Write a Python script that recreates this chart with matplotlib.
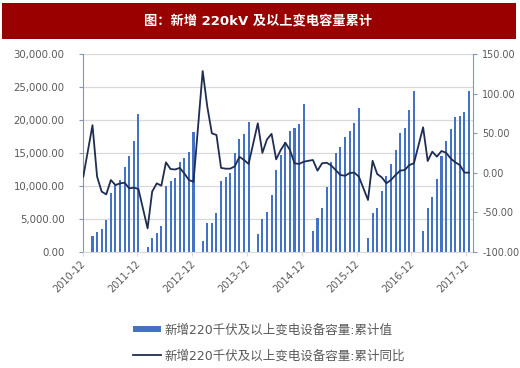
import numpy as np
import pandas as pd
import matplotlib
matplotlib.use("Agg")
import matplotlib.pyplot as plt
from matplotlib.patches import Rectangle
from matplotlib.transforms import ScaledTranslation

plt.rcParams["font.family"] = ["DejaVu Sans", "Noto Sans CJK SC"]
plt.rcParams["axes.unicode_minus"] = False

BAR_BLUE = "#4472C4"
LINE_NAVY = "#1F2D50"
GRID = "#D9D9D9"
TEXT = "#595959"
AXIS = "#8497B0"
TITLE_RED = "#990000"

# monthly data, 2010-12 .. 2017-12 (January not reported)
months = pd.period_range("2010-12", "2017-12", freq="M")
nan = np.nan
cum_value = [
    25900,
    nan, 2430, 2930, 3390, 4800, 8960, 10120, 10830, 12850, 14570, 16800, 20900,
    nan, 700, 2125, 2780, 3900, 10020, 10730, 11230, 13560, 14270, 15080, 18220,
    nan, 1620, 4300, 4300, 5820, 10730, 11280, 11940, 14930, 17150, 17810, 19730,
    nan, 2630, 5010, 6070, 8650, 12400, 14670, 16700, 18270, 18820, 19430, 22370,
    nan, 3140, 5060, 6680, 9770, 13560, 14930, 15890, 17460, 18370, 19580, 21860,
    nan, 2020, 5820, 6630, 9260, 11490, 13360, 15430, 17960, 18820, 21450, 24440,
    nan, 3140, 6680, 8250, 11080, 14570, 16800, 18570, 20440, 20590, 21250, 24390,
]
cum_yoy = [
    -5,
    nan, 60, -5, -24, -27.5, -9.4, -15.7, -13.6, -12.7, -19.9, -19, -20.7,
    nan, -70.5, -24, -13.6, -16.5, 13, 4.5, 4, 6, -1, -9.4, -11.5,
    nan, 128.5, 83.4, 49.7, 47.6, 6, 5, 5, 8, 20, 16, 11,
    nan, 62.4, 25, 42, 49, 16.8, 28.6, 37.8, 28.6, 11.8, 11, 13.8,
    nan, 16, 2.5, 11.8, 12.5, 9, 3, -3, -4, -0.5, 0, -5,
    nan, -34.6, 15, -1.7, -6, -13.5, -9.3, -3, 2.5, 3.3, 9.6, 11.8,
    nan, 57.3, 14.7, 26.5, 20.2, 27.3, 25.2, 18, 13, 9.6, 0, 0,
]
tick_labels = [f"{y}-12" for y in range(2010, 2018)]
bar_label = "新增220千伏及以上变电设备容量:累计值"
line_label = "新增220千伏及以上变电设备容量:累计同比"
title = "图：新增 220kV 及以上变电容量累计"

df = pd.DataFrame({"month": months, "value": cum_value, "yoy": cum_yoy})
df["x"] = np.arange(len(df))
d = df.dropna()

W, H = 520, 368
fig = plt.figure(figsize=(W / 100, H / 100), dpi=100)
fig.patch.set_facecolor("white")

# title bar
fig.patches.append(Rectangle((2 / W, 1 - 39 / H), 514 / W, 36 / H,
                             transform=fig.transFigure, facecolor=TITLE_RED,
                             edgecolor="none"))
fig.text(0.497, 1 - 21 / H, title, ha="center", va="center", color="white",
         fontsize=9.5, fontweight="bold")

ax = fig.add_axes([82.7 / W, 1 - 251.7 / H, (472.7 - 82.7) / W, (251.7 - 54) / H])
ax2 = ax.twinx()

bars = ax.bar(d["x"], d["value"], width=0.45, color=BAR_BLUE, zorder=2,
              label=bar_label)
line, = ax2.plot(d["x"], d["yoy"], color=LINE_NAVY, lw=1.3, zorder=3,
                 label=line_label)

ax.set_xlim(-0.13, 84.8)
ax.set_ylim(0, 30000)
ax.set_yticks(np.arange(0, 30001, 5000))
ax.set_yticklabels([f"{v:,.2f}" for v in np.arange(0, 30001, 5000)])
ax2.set_ylim(-100, 150)
ax2.set_yticks(np.arange(-100, 151, 50))
ax2.set_yticklabels([f"{v:.2f}" for v in np.arange(-100, 151, 50)])

ax.set_zorder(1)
ax2.set_zorder(2)
ax.yaxis.grid(True, color=GRID, lw=0.9, zorder=0)
ax.set_axisbelow(True)

for a in (ax, ax2):
    for s in a.spines.values():
        s.set_visible(False)
ax.spines["left"].set_visible(True)
ax.spines["left"].set_color(AXIS)
ax2.spines["right"].set_visible(True)
ax2.spines["right"].set_color(AXIS)
ax.spines["bottom"].set_visible(True)
ax.spines["bottom"].set_color(GRID)

ax.tick_params(axis="y", colors=AXIS, labelcolor=TEXT, labelsize=7.3,
               length=3, pad=10)
ax2.tick_params(axis="y", colors=AXIS, labelcolor=TEXT, labelsize=6.9,
                length=3, pad=4)
ax.tick_params(axis="x", colors=GRID, labelcolor=TEXT, labelsize=7,
               length=3, pad=2)

tick_pos = np.linspace(-0.13, 83.4, 8)
ax.set_xticks(tick_pos)
ax.set_xticklabels(tick_labels, rotation=45, ha="right")
shift = ScaledTranslation(5 / 100, 0, fig.dpi_scale_trans)
for lab in ax.get_xticklabels():
    lab.set_transform(lab.get_transform() + shift)

fig.legend([bars, line], [bar_label, line_label], loc="center left",
           bbox_to_anchor=(133 / W, 1 - 343 / H), frameon=False,
           fontsize=9, labelcolor=TEXT, handlelength=2.2, handleheight=0.4,
           handletextpad=0.3, labelspacing=1.0, borderpad=0, borderaxespad=0)

fig.savefig("out.png", dpi=100, facecolor="white")
